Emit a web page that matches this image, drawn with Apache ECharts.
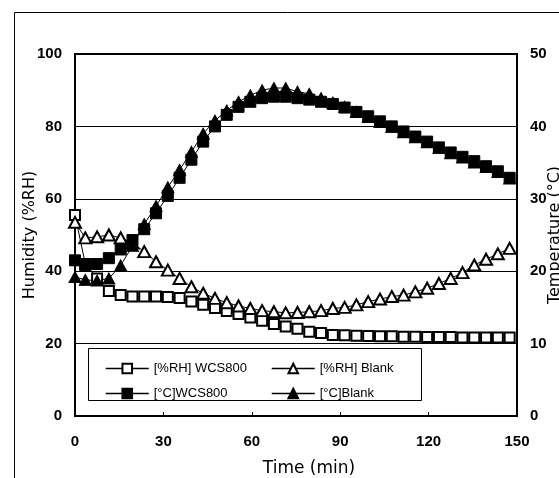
<!DOCTYPE html>
<html>
<head>
<meta charset="utf-8">
<script src="https://cdn.jsdelivr.net/npm/echarts@6/dist/echarts.min.js"></script>
<style>html,body{margin:0;padding:0;background:#fff;overflow:hidden;}#c{width:559px;height:478px;}</style>
</head>
<body>
<div id="c"></div>
<script>
// Time (min)
const times = [0, 3.5, 7.5, 11.5, 15.5, 19.5, 23.5, 27.5, 31.5, 35.5, 39.5, 43.5, 47.5, 51.5, 55.5, 59.5, 63.5, 67.5, 71.5, 75.5, 79.5, 83.5, 87.5, 91.5, 95.5, 99.5, 103.5, 107.5, 111.5, 115.5, 119.5, 123.5, 127.5, 131.5, 135.5, 139.5, 143.5, 147.5];
// Humidity (%RH)
const rhWCS800 = [55.5, 42, 38, 34.5, 33.4, 33, 33, 33, 32.9, 32.6, 31.6, 30.7, 29.8, 29, 28.2, 27.2, 26.3, 25.4, 24.7, 24.1, 23.3, 22.9, 22.4, 22.3, 22.2, 22.1, 22.0, 22.0, 21.9, 21.9, 21.8, 21.8, 21.8, 21.7, 21.7, 21.7, 21.7, 21.7];
const rhBlank = [53.5, 49.2, 49.5, 50, 49.2, 47.8, 45.4, 42.6, 40.3, 38, 35.7, 33.9, 32.5, 31.3, 30.4, 29.7, 29.1, 28.8, 28.5, 28.6, 28.8, 29.1, 29.7, 30, 30.7, 31.6, 32.3, 33, 33.4, 34.3, 35.3, 36.6, 38, 39.6, 41.7, 43.3, 44.8, 46.3];
// Temperature (°C)
const tWCS800 = [21.5, 20.8, 21, 21.8, 23, 24.3, 25.8, 28, 30.4, 32.9, 35.4, 37.9, 40, 41.6, 42.7, 43.4, 43.9, 44.1, 44.1, 43.9, 43.7, 43.4, 43.1, 42.6, 42, 41.4, 40.7, 40, 39.3, 38.6, 37.9, 37.1, 36.4, 35.8, 35.2, 34.5, 33.8, 32.9];
const tBlank = [19.2, 18.8, 18.7, 19, 20.8, 23.5, 26.5, 29, 31.6, 34, 36.5, 39, 40.8, 42.2, 43.4, 44.3, 45, 45.3, 45.3, 44.8, 44.5, 43.9, 43.3, 42.7, 42, 41.3, 40.6, 39.9, 39.2, 38.5, 37.8, 37, 36.3, 35.7, 35, 34.4, 33.7, 32.8];
// Axis ticks
const xTicks = [0, 30, 60, 90, 120, 150];
const rhTicks = [0, 20, 40, 60, 80, 100];
const tTicks = [0, 10, 20, 30, 40, 50];

const names = ['[%RH] WCS800', '[%RH] Blank', '[°C]WCS800', '[°C]Blank'];
const pair = arr => times.map((t, i) => [t, arr[i]]);

const tickFont = {color: '#000', fontSize: 15, fontWeight: 'bold', fontFamily: 'Liberation Sans, Arial, sans-serif'};
const titleFont = {color: '#000', fontSize: 16, fontFamily: 'DejaVu Sans, sans-serif'};
const openStyle = {color: '#fff', borderColor: '#000', borderWidth: 2};
const fillStyle = {color: '#000', borderColor: '#000', borderWidth: 1};
const lineSt = {color: '#000', width: 1};

const chart = echarts.init(document.getElementById('c'), null, {renderer: 'canvas'});
chart.setOption({
  animation: false,
  backgroundColor: '#fff',
  grid: {left: 75, right: 42, top: 54, bottom: 62, containLabel: false, outerBoundsMode: 'none',
         show: true, borderColor: '#000', borderWidth: 2, backgroundColor: 'transparent'},
  xAxis: {
    type: 'value', min: xTicks[0], max: xTicks[xTicks.length - 1], interval: xTicks[1] - xTicks[0],
    name: 'Time (min)', nameLocation: 'middle', nameGap: 44, nameMoveOverlap: false,
    nameTextStyle: Object.assign({}, titleFont, {fontSize: 17, padding: [0, 0, 0, 26]}),
    axisLine: {show: true, lineStyle: {color: '#000', width: 2}},
    axisTick: {show: true, inside: true, length: 4, lineStyle: {color: '#000', width: 1}},
    axisLabel: Object.assign({margin: 18}, tickFont),
    splitLine: {show: false}
  },
  yAxis: [{
    type: 'value', min: rhTicks[0], max: rhTicks[rhTicks.length - 1], interval: rhTicks[1] - rhTicks[0],
    name: 'Humidity (%RH)', nameLocation: 'middle', nameGap: 37, nameRotate: 90, nameMoveOverlap: false,
    nameTextStyle: titleFont,
    axisLine: {show: true, lineStyle: {color: '#000', width: 2}},
    axisTick: {show: false},
    axisLabel: Object.assign({margin: 13}, tickFont),
    splitLine: {show: true, lineStyle: {color: '#000', width: 1}}
  }, {
    type: 'value', position: 'right', min: tTicks[0], max: tTicks[tTicks.length - 1], interval: tTicks[1] - tTicks[0],
    name: 'Temperature (°C)', nameLocation: 'middle', nameGap: 30, nameRotate: 90, nameMoveOverlap: false,
    nameTextStyle: titleFont,
    axisLine: {show: true, lineStyle: {color: '#000', width: 2}},
    axisTick: {show: false},
    axisLabel: Object.assign({margin: 13}, tickFont),
    splitLine: {show: false}
  }],
  legend: [{
    left: 100, top: 357, orient: 'vertical', itemWidth: 43, itemHeight: 12, itemGap: 12,
    data: [names[0], names[2]],
    textStyle: {color: '#000', fontSize: 13, fontFamily: 'Liberation Sans, Arial, sans-serif'},
    lineStyle: {width: 1.5}
  }, {
    left: 266, top: 357, orient: 'vertical', itemWidth: 43, itemHeight: 12, itemGap: 12,
    data: [names[1], names[3]],
    textStyle: {color: '#000', fontSize: 13, fontFamily: 'Liberation Sans, Arial, sans-serif'},
    lineStyle: {width: 1.5}
  }],
  graphic: [{
    type: 'rect', z: 0, silent: true,
    shape: {x: 14.5, y: 12.5, width: 800, height: 800},
    style: {fill: 'none', stroke: '#000', lineWidth: 1}
  }, {
    type: 'rect', z: 3, silent: true,
    shape: {x: 88.5, y: 348.5, width: 333, height: 52},
    style: {fill: '#fff', stroke: '#000', lineWidth: 1}
  }],
  series: [{
    name: names[0], type: 'line', yAxisIndex: 0, data: pair(rhWCS800),
    symbol: 'rect', symbolSize: 10, showAllSymbol: true,
    itemStyle: openStyle, lineStyle: lineSt
  }, {
    name: names[1], type: 'line', yAxisIndex: 0, data: pair(rhBlank),
    symbol: 'triangle', symbolSize: [12, 11], showAllSymbol: true,
    itemStyle: openStyle, lineStyle: lineSt
  }, {
    name: names[2], type: 'line', yAxisIndex: 1, data: pair(tWCS800),
    symbol: 'rect', symbolSize: 11, showAllSymbol: true,
    itemStyle: fillStyle, lineStyle: lineSt
  }, {
    name: names[3], type: 'line', yAxisIndex: 1, data: pair(tBlank),
    symbol: 'triangle', symbolSize: [12, 11], showAllSymbol: true,
    itemStyle: fillStyle, lineStyle: lineSt
  }]
});
</script>
</body>
</html>
